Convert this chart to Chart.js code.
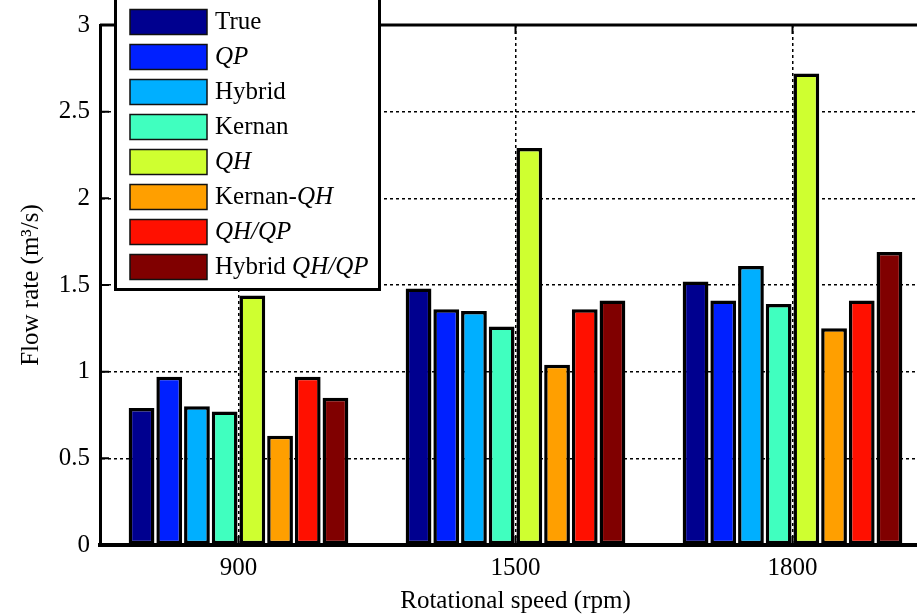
<!DOCTYPE html>
<html>
<head>
<meta charset="utf-8">
<script src="https://cdn.jsdelivr.net/npm/chart.js@4.4.0/dist/chart.umd.min.js"></script>
<style>
  html, body { margin: 0; padding: 0; background: #fff; overflow: hidden; }
  #wrap { width: 917px; height: 616px; overflow: hidden; }
</style>
</head>
<body>
<div id="wrap"><canvas id="flow" width="940" height="616"></canvas></div>
<script>
// speeds on the x axis
var speeds = ['900', '1500', '1800'];

// series names, _x_ marks an italic run
var seriesNames = ['True', '_QP_', 'Hybrid', 'Kernan', '_QH_', 'Kernan-_QH_', '_QH/QP_', 'Hybrid _QH/QP_'];

// flow rate per method (m3/s) at 900, 1500, 1800 rpm
var trueFlow     = [0.79, 1.48, 1.52];
var qpFlow       = [0.97, 1.36, 1.41];
var hybridFlow   = [0.80, 1.35, 1.61];
var kernanFlow   = [0.77, 1.26, 1.39];
var qhFlow       = [1.44, 2.29, 2.72];
var kernanQhFlow = [0.63, 1.04, 1.25];
var qhQpFlow     = [0.97, 1.36, 1.41];
var hybridQhQp   = [0.85, 1.41, 1.69];

var seriesValues = [trueFlow, qpFlow, hybridFlow, kernanFlow, qhFlow, kernanQhFlow, qhQpFlow, hybridQhQp];
var seriesColors = ['#00008F', '#0020FF', '#00AFFF', '#40FFBF', '#CFFF30', '#FF9F00', '#FF1000', '#800000'];

var FONT = '"Liberation Serif", "Times New Roman", serif';

var datasets = [];
for (var i = 0; i < seriesValues.length; i++) {
  datasets.push({
    label: seriesNames[i].replace(/_/g, ''),
    data: seriesValues[i],
    backgroundColor: seriesColors[i],
    borderColor: '#000',
    borderWidth: 3.5,
    borderSkipped: false,
    categoryPercentage: 0.8,
    barPercentage: 0.93
  });
}

// matlab-ish frame: top line, inward ticks, legend box
var framePlugin = {
  id: 'frame',
  afterDraw: function(chart) {
    var ctx = chart.ctx;
    var a = chart.chartArea;
    var ys = chart.scales.y;
    var xs = chart.scales.x;
    ctx.save();
    ctx.strokeStyle = '#000';
    // top border
    ctx.lineWidth = 3;
    ctx.beginPath();
    ctx.moveTo(a.left, a.top);
    ctx.lineTo(a.right, a.top);
    ctx.stroke();
    // inward ticks
    ctx.lineWidth = 2;
    ys.ticks.forEach(function(t) {
      var py = ys.getPixelForValue(t.value);
      ctx.beginPath();
      ctx.moveTo(a.left, py);
      ctx.lineTo(a.left + 9, py);
      ctx.moveTo(a.right, py);
      ctx.lineTo(a.right - 9, py);
      ctx.stroke();
    });
    xs.ticks.forEach(function(t, k) {
      var px = xs.getPixelForTick(k);
      ctx.beginPath();
      ctx.moveTo(px, a.bottom);
      ctx.lineTo(px, a.bottom - 9);
      ctx.moveTo(px, a.top);
      ctx.lineTo(px, a.top + 9);
      ctx.stroke();
    });

    // legend
    ctx.fillStyle = '#fff';
    ctx.fillRect(115, -10, 265, 299);
    ctx.lineWidth = 3;
    ctx.strokeRect(115.5, -10, 264, 299.5);
    ctx.textBaseline = 'middle';
    for (var i = 0; i < seriesNames.length; i++) {
      var cy = 21.5 + i * 35;
      ctx.fillStyle = seriesColors[i];
      ctx.fillRect(130, cy - 12, 77, 25);
      ctx.lineWidth = 1.5;
      ctx.strokeStyle = '#111';
      ctx.strokeRect(130, cy - 12, 77, 25);
      var parts = seriesNames[i].split('_');
      var tx = 215;
      ctx.fillStyle = '#000';
      for (var p = 0; p < parts.length; p++) {
        if (!parts[p]) continue;
        ctx.font = (p % 2 ? 'italic ' : '') + '25px ' + FONT;
        ctx.fillText(parts[p], tx, cy + 1);
        tx += ctx.measureText(parts[p]).width;
      }
    }
    ctx.restore();
  }
};

var chart = new Chart(document.getElementById('flow'), {
  type: 'bar',
  data: { labels: speeds, datasets: datasets },
  options: {
    responsive: false,
    animation: false,
    devicePixelRatio: 1,
    layout: { padding: { left: 0, top: 24, right: 9, bottom: 0 } },
    plugins: { legend: { display: false }, tooltip: { enabled: false } },
    scales: {
      x: {
        offset: true,
        grid: { display: true, offset: false, color: '#000', lineWidth: 1.5, drawTicks: false },
        border: { display: true, color: '#000', width: 4, dash: [3, 3] },
        ticks: { color: '#000', font: { family: FONT, size: 25 }, padding: 8 },
        title: { display: true, text: 'Rotational speed (rpm)', color: '#000', font: { family: FONT, size: 25 }, padding: { top: 0, bottom: 0 } },
        afterFit: function(axis) { axis.height = 71; }
      },
      y: {
        min: 0,
        max: 3,
        grid: { color: '#000', lineWidth: 1.5, drawTicks: false },
        border: { display: true, color: '#000', width: 3, dash: [3, 3] },
        ticks: {
          stepSize: 0.5, color: '#000', font: { family: FONT, size: 25 }, padding: 10,
          callback: function(v) { return String(Math.round(v * 10) / 10); }
        },
        title: { display: true, text: 'Flow rate (m\u00b3/s)', color: '#000', font: { family: FONT, size: 25 }, padding: { top: 16, bottom: 0 } },
        afterFit: function(axis) { axis.width = 100; }
      }
    }
  },
  plugins: [framePlugin]
});
</script>
</body>
</html>
